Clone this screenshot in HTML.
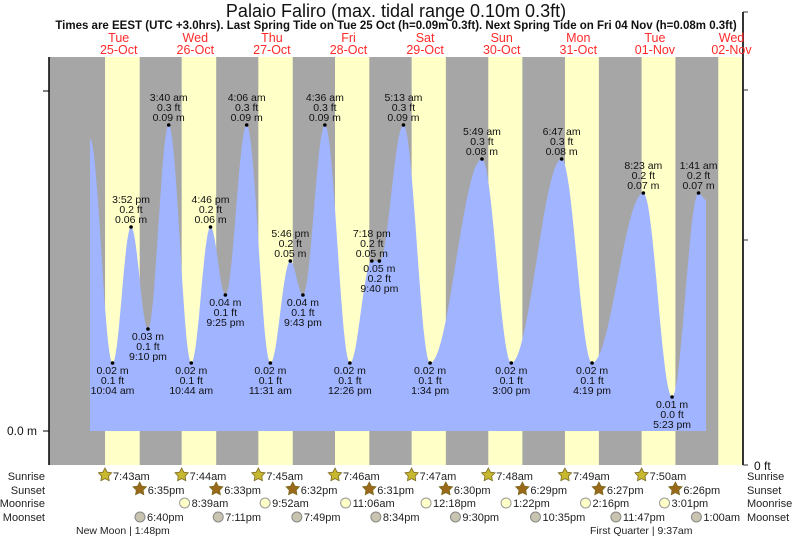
<!DOCTYPE html>
<html><head><meta charset="utf-8"><style>
body{margin:0;background:#fff;}
svg{display:block;font-family:"Liberation Sans",sans-serif;}
</style></head><body>
<svg id="c" width="793" height="539" viewBox="0 0 793 539">
<text x="396" y="17" font-size="18" text-anchor="middle" fill="#111">Palaio Faliro (max. tidal range 0.10m 0.3ft)</text>
<text x="396" y="29" font-size="11.5" font-weight="bold" text-anchor="middle" fill="#111">Times are EEST (UTC +3.0hrs). Last Spring Tide on Tue 25 Oct (h=0.09m 0.3ft). Next Spring Tide on Fri 04 Nov (h=0.08m 0.3ft)</text>
<g id="bg"></g>
<g id="tide"></g>
<g id="axes"></g>
<g id="days"></g>
<g id="astro"></g>
</svg>
<script>
const dayNames=["Tue","Wed","Thu","Fri","Sat","Sun","Mon","Tue","Wed"];
const dayDates=["25-Oct","26-Oct","27-Oct","28-Oct","29-Oct","30-Oct","31-Oct","01-Nov","02-Nov"];
const sunrise=[7.72,7.73,7.75,7.77,7.78,7.8,7.82,7.83];
const sunset=[18.58,18.55,18.53,18.52,18.5,18.48,18.45,18.43];
const sunriseLbl=["7:43am","7:44am","7:45am","7:46am","7:47am","7:48am","7:49am","7:50am"];
const sunsetLbl=["6:35pm","6:33pm","6:32pm","6:31pm","6:30pm","6:29pm","6:27pm","6:26pm"];
const moonriseDay=[1,2,3,4,5,6,7];
const moonriseT=[8.65,9.87,11.1,12.3,13.37,14.27,15.02];
const moonriseLbl=["8:39am","9:52am","11:06am","12:18pm","1:22pm","2:16pm","3:01pm"];
const moonsetDay=[0,1,2,3,4,5,6,8];
const moonsetT=[18.67,19.18,19.82,20.57,21.5,22.58,23.78,1.0];
const moonsetLbl=["6:40pm","7:11pm","7:49pm","8:34pm","9:30pm","10:35pm","11:47pm","1:00am"];
// tide events: hours since midnight 25-Oct, height m
const tideT=[3.0,10.07,15.87,21.17,27.67,34.73,40.77,45.42,52.1,59.52,65.77,69.72,76.6,84.43,91.3,93.67,101.22,109.57,125.82,135.0,150.78,160.32,176.38,185.38,193.68,196.0];
const tideH=[0.086,0.02,0.06,0.03,0.09,0.02,0.06,0.04,0.09,0.02,0.05,0.04,0.09,0.02,0.05,0.05,0.09,0.02,0.08,0.02,0.08,0.02,0.07,0.01,0.07,0.068];
const tideLbl=[null,["0.02 m","0.1 ft","10:04 am"],["3:52 pm","0.2 ft","0.06 m"],["0.03 m","0.1 ft","9:10 pm"],["3:40 am","0.3 ft","0.09 m"],["0.02 m","0.1 ft","10:44 am"],["4:46 pm","0.2 ft","0.06 m"],["0.04 m","0.1 ft","9:25 pm"],["4:06 am","0.3 ft","0.09 m"],["0.02 m","0.1 ft","11:31 am"],["5:46 pm","0.2 ft","0.05 m"],["0.04 m","0.1 ft","9:43 pm"],["4:36 am","0.3 ft","0.09 m"],["0.02 m","0.1 ft","12:26 pm"],["7:18 pm","0.2 ft","0.05 m"],["0.05 m","0.2 ft","9:40 pm"],["5:13 am","0.3 ft","0.09 m"],["0.02 m","0.1 ft","1:34 pm"],["5:49 am","0.3 ft","0.08 m"],["0.02 m","0.1 ft","3:00 pm"],["6:47 am","0.3 ft","0.08 m"],["0.02 m","0.1 ft","4:19 pm"],["8:23 am","0.2 ft","0.07 m"],["0.01 m","0.0 ft","5:23 pm"],["1:41 am","0.2 ft","0.07 m"],null];
const tideHigh=[0,0,1,0,1,0,1,0,1,0,1,0,1,0,1,0,1,0,1,0,1,0,1,0,1,0];

const NS="http://www.w3.org/2000/svg";
const X0=80.4, DW=76.6, L=49, R=743, TOP=57, BOT=465, Y0=431, PPM=3400;
const xs=h=>X0+h*DW/24, ys=m=>Y0-m*PPM;
function mk(tag,attrs,parent,txt){const e=document.createElementNS(NS,tag);for(const k in attrs)e.setAttribute(k,attrs[k]);if(txt!==undefined)e.textContent=txt;parent.appendChild(e);return e;}
const bg=document.getElementById('bg');
mk('rect',{x:L,y:TOP,width:R-L,height:BOT-TOP,fill:'#a6a6a6'},bg);
for(let d=0;d<9;d++){
  const a=xs(d*24+(sunrise[d]||7.85)), b=Math.min(R,xs(d*24+(sunset[d]||18.42)));
  if(a>=R)continue;
  const s=mk('rect',{x:a,y:TOP,width:b-a,height:BOT-TOP,fill:'#ffffc8'},bg);
  
  
}
const tg=document.getElementById('tide');
let pts=[];
for(let i=0;i<tideT.length-1;i++){
  for(let k=0;k<20;k++){const f=k/20,t=tideT[i]+(tideT[i+1]-tideT[i])*f;const h=tideH[i]+(tideH[i+1]-tideH[i])*(1-Math.cos(Math.PI*f))/2;pts.push(xs(t).toFixed(1)+','+ys(h).toFixed(1));}
}
const last=tideT.length-1;pts.push(xs(tideT[last]).toFixed(1)+','+ys(tideH[last]).toFixed(1));
const area=mk('path',{d:'M'+xs(tideT[0]).toFixed(1)+','+Y0+' L'+pts.join(' L')+' L'+xs(tideT[last]).toFixed(1)+','+Y0+' Z',fill:'#a0b4ff'},tg);


for(let i=0;i<tideT.length;i++){
  if(!tideLbl[i])continue;
  const x=xs(tideT[i]),y=ys(tideH[i]);
  const d=mk('circle',{cx:x,cy:y,r:1.8,fill:'#000'},tg);
  
  
  const g=mk('g',{'font-size':10.5,'text-anchor':'middle',fill:'#111'},tg);
  
  
  const base=tideHigh[i]?y-24:y+11;
  tideLbl[i].forEach((s,j)=>mk('text',{x:x,y:base+j*10},g,s));
}
const ax=document.getElementById('axes');
mk('line',{x1:L,y1:TOP,x2:L,y2:BOT,stroke:'#000','stroke-width':1.5},ax);
mk('line',{x1:L,y1:91,x2:43,y2:91,stroke:'#000'},ax);
mk('line',{x1:L,y1:Y0,x2:43,y2:Y0,stroke:'#000'},ax);
mk('text',{x:37,y:Y0+4,'font-size':12,'text-anchor':'end',fill:'#111'},ax,'0.0 m');
mk('line',{x1:R,y1:12,x2:R,y2:BOT,stroke:'#333','stroke-width':2},ax);
[12,90,240,465].forEach(y=>mk('line',{x1:R,y1:y,x2:R+5,y2:y,stroke:'#333'},ax));
mk('text',{x:754,y:470,'font-size':12,fill:'#111'},ax,'0 ft');
const dg=document.getElementById('days');
for(let d=0;d<9;d++){
  const x=xs(d*24+12);
  const g=mk('g',{'font-size':12.5,'text-anchor':'middle',fill:'#ff2a2a'},dg);
  
  
  mk('text',{x:x,y:42},g,dayNames[d]);
  mk('text',{x:x,y:54},g,dayDates[d]);
}
const ag=document.getElementById('astro');
const rowY=[480,494,507,521];
["Sunrise","Sunset","Moonrise","Moonset"].forEach((n,i)=>{
  mk('text',{x:45,y:rowY[i],'font-size':11,'text-anchor':'end',fill:'#222'},ag,n);
  mk('text',{x:747,y:rowY[i],'font-size':11,fill:'#222'},ag,n);
});
function star(cx,cy,fill){let p=[];for(let k=0;k<10;k++){const a=-Math.PI/2+k*Math.PI/5,rr=k%2?3.6:7;p.push((cx+rr*Math.cos(a)).toFixed(1)+','+(cy+rr*Math.sin(a)).toFixed(1));}return mk('polygon',{points:p.join(' '),fill:fill,stroke:'#7a6a20','stroke-width':0.8},ag);}
for(let d=0;d<8;d++){
  let x=xs(d*24+sunrise[d]);star(x,rowY[0]-5,'#c8b830');mk('text',{x:x+8,y:rowY[0],'font-size':11,fill:'#222'},ag,sunriseLbl[d]);
  x=xs(d*24+sunset[d]);star(x,rowY[1]-5,'#9a6a1a');mk('text',{x:x+8,y:rowY[1],'font-size':11,fill:'#222'},ag,sunsetLbl[d]);
}
moonriseT.forEach((t,i)=>{const x=xs(moonriseDay[i]*24+t);mk('circle',{cx:x,cy:rowY[2]-4,r:5,fill:'#ffffc8',stroke:'#999'},ag);mk('text',{x:x+7,y:rowY[2],'font-size':11,fill:'#222'},ag,moonriseLbl[i]);});
moonsetT.forEach((t,i)=>{const x=xs(moonsetDay[i]*24+t);mk('circle',{cx:x,cy:rowY[3]-4,r:5,fill:'#c8c4b0',stroke:'#888'},ag);mk('text',{x:x+7,y:rowY[3],'font-size':11,fill:'#222'},ag,moonsetLbl[i]);});
mk('text',{x:76,y:534,'font-size':10.5,fill:'#222'},ag,'New Moon | 1:48pm');
mk('text',{x:590,y:534,'font-size':10.5,fill:'#222'},ag,'First Quarter | 9:37am');
</script>
</body></html>
